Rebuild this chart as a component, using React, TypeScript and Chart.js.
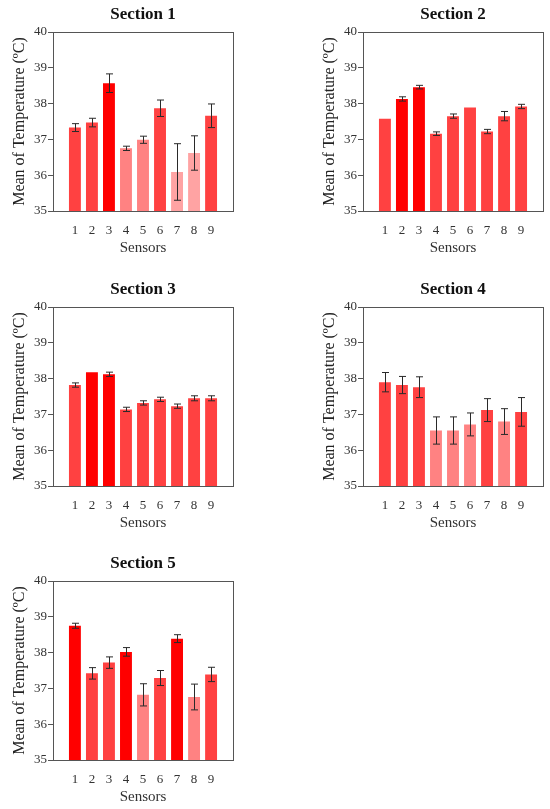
import React, { useEffect, useRef } from "react";
import { Chart, registerables } from "chart.js";

Chart.register(...registerables);

const sensors = ["1", "2", "3", "4", "5", "6", "7", "8", "9"];
const sectionTitles = ["Section 1", "Section 2", "Section 3", "Section 4", "Section 5"];

const section1Means = [37.33, 37.47, 38.57, 36.75, 36.99, 37.87, 36.09, 36.62, 37.66];
const section1Errors = [0.11, 0.12, 0.26, 0.06, 0.1, 0.23, 0.79, 0.48, 0.33];
const section1Shades = ["mid", "mid", "high", "low", "low", "mid", "lowest", "lowest", "mid"];

const section2Means = [37.58, 38.13, 38.46, 37.16, 37.65, 37.89, 37.22, 37.65, 37.92];
const section2Errors = [0, 0.06, 0.05, 0.05, 0.06, 0, 0.06, 0.13, 0.06];
const section2Shades = ["mid", "high", "high", "mid", "mid", "mid", "mid", "mid", "mid"];

const section3Means = [37.82, 38.18, 38.12, 37.14, 37.32, 37.42, 37.23, 37.45, 37.45];
const section3Errors = [0.06, 0, 0.06, 0.06, 0.06, 0.06, 0.06, 0.07, 0.07];
const section3Shades = ["mid", "high", "high", "mid", "mid", "mid", "mid", "mid", "mid"];

const section4Means = [37.9, 37.82, 37.76, 36.55, 36.55, 36.72, 37.12, 36.8, 37.07];
const section4Errors = [0.27, 0.24, 0.29, 0.38, 0.38, 0.32, 0.32, 0.36, 0.4];
const section4Shades = ["mid", "mid", "mid", "low", "low", "low", "mid", "low", "mid"];

const section5Means = [38.75, 37.42, 37.72, 38.02, 36.82, 37.29, 38.39, 36.76, 37.39];
const section5Errors = [0.07, 0.16, 0.16, 0.12, 0.31, 0.21, 0.11, 0.36, 0.2];
const section5Shades = ["high", "mid", "mid", "high", "low", "mid", "high", "low", "mid"];

const yTicks = [35, 36, 37, 38, 39, 40];

const palette: Record<string, string> = {
  high: "#ff0000",
  mid: "#ff4141",
  low: "#ff8282",
  lowest: "#ffa3a3",
};

const FONT = "'Liberation Serif', 'Times New Roman', serif";

const errorBarPlugin = {
  id: "errorBars",
  afterDatasetsDraw(chart: any) {
    const errs: number[] = chart.options.plugins.errorBars?.errors || [];
    const ds = chart.data.datasets[0];
    const xs = chart.scales.x;
    const ys = chart.scales.y;
    const ctx = chart.ctx;
    ctx.save();
    ctx.strokeStyle = "#2a2a2a";
    ctx.lineWidth = 1;
    ds.data.forEach((p: any, i: number) => {
      const e = errs[i] || 0;
      if (!e) return;
      const x = Math.round(xs.getPixelForValue(p.x)) + 0.5;
      const yt = ys.getPixelForValue(p.y + e);
      const yb = ys.getPixelForValue(p.y - e);
      ctx.beginPath();
      ctx.moveTo(x, yt);
      ctx.lineTo(x, yb);
      ctx.moveTo(x - 3.5, yt);
      ctx.lineTo(x + 3.5, yt);
      ctx.moveTo(x - 3.5, yb);
      ctx.lineTo(x + 3.5, yb);
      ctx.stroke();
    });
    ctx.restore();
  },
};

const framePlugin = {
  id: "frame",
  afterDraw(chart: any) {
    const { left, right, top, bottom } = chart.chartArea;
    const ctx = chart.ctx;
    ctx.save();
    ctx.strokeStyle = "#555";
    ctx.lineWidth = 1;
    ctx.strokeRect(Math.round(left) + 0.5, Math.round(top) + 0.5, Math.round(right - left), Math.round(bottom - top));
    ctx.restore();
  },
};

type PanelProps = {
  title: string;
  means: number[];
  errors: number[];
  shades: string[];
  left: number;
  top: number;
};

const CW = 240;
const CH = 258;

function Panel({ title, means, errors, shades, left, top }: PanelProps) {
  const ref = useRef<HTMLCanvasElement>(null);
  useEffect(() => {
    if (!ref.current) return;
    const chart = new Chart(ref.current, {
      type: "bar",
      data: {
        datasets: [
          {
            data: means.map((v, i) => ({ x: i + 1, y: v })),
            backgroundColor: shades.map((s) => palette[s]),
            borderWidth: 0,
            barPercentage: 0.7,
            categoryPercentage: 1,
          },
        ],
      },
      options: {
        responsive: false,
        animation: false,
        layout: { padding: { left: 0, right: CW - 233, top: 0, bottom: 0 } },
        plugins: {
          legend: { display: false },
          tooltip: { enabled: false },
          title: {
            display: true,
            text: title,
            fullSize: false,
            color: "#111",
            font: { family: FONT, size: 17, weight: "bold", lineHeight: 1.2 },
            padding: { top: 4, bottom: 7.6 },
          },
          errorBars: { errors },
        } as any,
        scales: {
          x: {
            type: "linear",
            min: 0.3,
            max: 9.7,
            grid: { display: false, drawTicks: false },
            border: { display: false },
            ticks: {
              stepSize: 1,
              includeBounds: false,
              autoSkip: false,
              maxRotation: 0,
              padding: 12,
              color: "#333",
              font: { family: FONT, size: 13 },
              callback: (v: any) => sensors[Number(v) - 1] ?? "",
            },
            title: {
              display: true,
              text: "Sensors",
              color: "#333",
              font: { family: FONT, size: 15, lineHeight: 1.2 },
              padding: { top: 0, bottom: 1 },
            },
            afterFit: (s: any) => {
              s.height = 47;
            },
          },
          y: {
            min: 35,
            max: 40,
            grid: { display: true, drawOnChartArea: false, drawTicks: true, tickLength: 5, color: "#555", lineWidth: 1 },
            border: { display: false },
            afterBuildTicks: (s: any) => {
              s.ticks = yTicks.map((v) => ({ value: v }));
            },
            ticks: {
              padding: 1,
              color: "#333",
              font: { family: FONT, size: 13 },
            },
            title: {
              display: true,
              text: "Mean of Temperature (ºC)",
              color: "#222",
              font: { family: FONT, size: 16, lineHeight: 1.2 },
              padding: { top: 10, bottom: 0 },
            },
            afterFit: (s: any) => {
              s.width = 53;
            },
          },
        },
      } as any,
      plugins: [errorBarPlugin, framePlugin],
    });
    return () => chart.destroy();
  }, []);
  return (
    <canvas
      ref={ref}
      width={CW}
      height={CH}
      style={{ position: "absolute", left, top, width: CW, height: CH }}
    />
  );
}

export default function App() {
  return (
    <div
      style={{
        position: "absolute",
        left: 0,
        top: 0,
        width: 550,
        height: 809,
        overflow: "hidden",
        background: "#fff",
      }}
    >
      <Panel title={sectionTitles[0]} means={section1Means} errors={section1Errors} shades={section1Shades} left={0} top={0} />
      <Panel title={sectionTitles[1]} means={section2Means} errors={section2Errors} shades={section2Shades} left={310} top={0} />
      <Panel title={sectionTitles[2]} means={section3Means} errors={section3Errors} shades={section3Shades} left={0} top={275} />
      <Panel title={sectionTitles[3]} means={section4Means} errors={section4Errors} shades={section4Shades} left={310} top={275} />
      <Panel title={sectionTitles[4]} means={section5Means} errors={section5Errors} shades={section5Shades} left={0} top={549} />
    </div>
  );
}
